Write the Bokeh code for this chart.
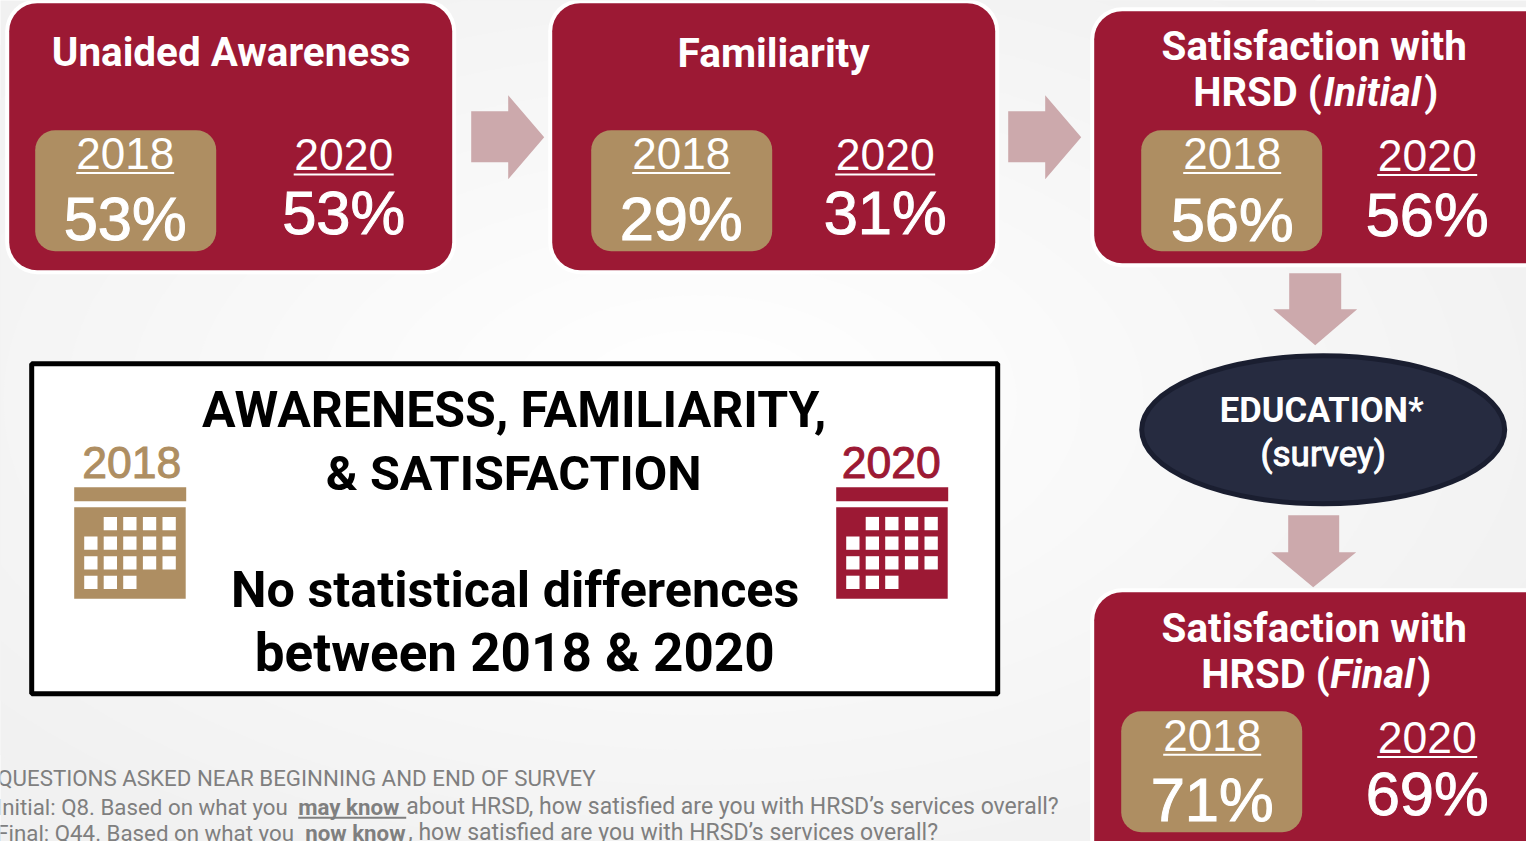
from bokeh.plotting import figure
from bokeh.models import Range1d
from bokeh.core.properties import value
from bokeh.embed import file_html
from bokeh.resources import INLINE
import math

# content
card_titles = [["Unaided Awareness"], ["Familiarity"], ["Satisfaction with"], ["Satisfaction with"]]
years = ["2018", "2020"]
values_2018 = ["53%", "29%", "56%", "71%"]
values_2020 = ["53%", "31%", "56%", "69%"]
big_lines = ["AWARENESS, FAMILIARITY,", "& SATISFACTION", "No statistical differences", "between 2018 & 2020"]
footer_head = "QUESTIONS ASKED NEAR BEGINNING AND END OF SURVEY"

W, H = 1526, 841
CRIM, TAN, PINK, NAVY = "#9C1934", "#AE8E62", "#CCA9AC", "#262B40"
NARROW, SANS = "Roboto", "Liberation Sans"
BASE = 0.41
SHIFT = 0.3

p = figure(width=W, height=H, x_range=Range1d(SHIFT, W + SHIFT), y_range=Range1d(H + SHIFT, SHIFT),
           output_backend="svg", toolbar_location=None, min_border=0,
           x_axis_type=None, y_axis_type=None, outline_line_color=None,
           background_fill_color="#F1F1F1", border_fill_color="#F1F1F1")
p.grid.visible = False

# soft radial backdrop
steps = 15
for i in range(steps):
    t = 1 - i / steps
    c = 241 + int(14 * i / (steps - 1))
    col = f"#{c:02X}{c:02X}{c:02X}"
    p.ellipse(x=[700], y=[400], width=[1900 * t], height=[1050 * t], fill_color=col, line_color=None)


def rrect(x0, y0, x1, y1, r, **kw):
    xs, ys = [], []
    for cx, cy, a0 in [(x1 - r, y0 + r, -90), (x1 - r, y1 - r, 0), (x0 + r, y1 - r, 90), (x0 + r, y0 + r, 180)]:
        for k in range(9):
            a = math.radians(a0 + k * 90 / 8)
            xs.append(cx + r * math.cos(a))
            ys.append(cy + r * math.sin(a))
    p.patch(xs, ys, **kw)


def txt(x, y, s, size, color, align="center", style="normal", font=SANS, outline=None):
    p.text(x=[x], y=[y - BASE * size], text=[s], text_font=value(font), text_font_size=f"{size}px",
           text_font_style=style, text_color=color, text_align=align, text_baseline="alphabetic",
           text_outline_color=outline)


def line(x0, x1, y, w, color):
    p.segment(x0=[x0], y0=[y], x1=[x1], y1=[y], line_color=color, line_width=w)


# cards: box, tan box left, 2018 x, 2020 x, baselines
cards = [
    dict(box=(9, 3, 452, 270), tan=(35, 130, 216, 251), x18=125, x20=343.5, y18=171.3, y20=172.8, v18=243.5, v20=238),
    dict(box=(552, 3, 995, 270), tan=(591, 130, 772, 251), x18=681, x20=885, y18=171.3, y20=172.8, v18=243.5, v20=238),
    dict(box=(1094, 11, 1560, 263), tan=(1141, 130, 1322, 251), x18=1232, x20=1427, y18=171.3, y20=173.3, v18=244.5, v20=239.5),
    dict(box=(1094, 592, 1560, 880), tan=(1121, 711, 1302, 832), x18=1212, x20=1427, y18=753, y20=755.3, v18=824.5, v20=819),
]
for i, c in enumerate(cards):
    x0, y0, x1, y1 = c["box"]
    rrect(x0 - 4, y0 - 4, x1 + 4, y1 + 4, 32, fill_color="#FFFFFF", line_color=None)
    rrect(x0, y0, x1, y1, 28, fill_color=CRIM, line_color=None)
    a, b, d, e = c["tan"]
    rrect(a, b, d, e, 20, fill_color=TAN, line_color=None)
    txt(c["x18"], c["y18"], years[0], 44, "#FFFFFF")
    txt(c["x20"], c["y20"], years[1], 44.5, "#FFFFFF")
    line(c["x18"] - 49, c["x18"] + 49, c["y18"] + 1.5, 2, "#FFFFFF")
    line(c["x20"] - 50, c["x20"] + 50, c["y20"] + 1.5, 2, "#FFFFFF")
    txt(c["x18"], c["v18"], values_2018[i], 61.5, "#FFFFFF", outline="#FFFFFF")
    txt(c["x20"], c["v20"], values_2020[i], 61.5, "#FFFFFF", outline="#FFFFFF")

txt(231, 69, card_titles[0][0], 40.4, "#FFFFFF", style="bold", font=NARROW)
txt(773.5, 69, card_titles[1][0], 40.6, "#FFFFFF", style="bold", font=NARROW)
txt(1314, 63, card_titles[2][0], 40.4, "#FFFFFF", style="bold", font=NARROW)
txt(1314, 645, card_titles[3][0], 40.4, "#FFFFFF", style="bold", font=NARROW)

txt(1193, 109, "HRSD (", 40, "#FFFFFF", "left", "bold", NARROW)
txt(1323, 109, "Initial", 40, "#FFFFFF", "left", "bold italic", NARROW)
txt(1424, 109, ")", 40, "#FFFFFF", "left", "bold", NARROW)
txt(1201, 691, "HRSD (", 40, "#FFFFFF", "left", "bold", NARROW)
txt(1330, 691, "Final", 40, "#FFFFFF", "left", "bold italic", NARROW)
txt(1417, 691, ")", 40, "#FFFFFF", "left", "bold", NARROW)

# arrows
for ox in (0, 537):
    p.patch([471 + ox, 508 + ox, 508 + ox, 544 + ox, 508 + ox, 508 + ox, 471 + ox],
            [111, 111, 95, 137, 179, 162, 162], fill_color=PINK, line_color=None)
for sx0, sx1, sy0, hy, hx0, hx1, tx, ty in [(1289, 1341, 273, 309, 1273, 1357, 1315, 345),
                                            (1288, 1339, 515, 552, 1271, 1356, 1313, 587)]:
    p.patch([sx0, sx1, sx1, hx1, tx, hx0, sx0], [sy0, sy0, hy, hy, ty, hy, hy], fill_color=PINK, line_color=None)

# education oval
p.ellipse(x=[1323], y=[429.5], width=[363], height=[148], fill_color=NAVY, line_color="#1A1E30", line_width=5)
txt(1321.5, 424, "EDUCATION*", 34.6, "#FFFFFF", style="bold", font=NARROW)
txt(1323, 469, "(survey)", 35, "#FFFFFF", font=NARROW, outline="#FFFFFF")

# central box
p.quad(left=[31.5], right=[997.5], top=[363.5], bottom=[693.5], fill_color="#FFFFFF", line_color="#000000", line_width=5)
txt(514, 430.5, big_lines[0], 50, "#000000", style="bold", font=NARROW)
txt(513.5, 493.5, big_lines[1], 48.6, "#000000", style="bold", font=NARROW)
txt(515, 609.5, big_lines[2], 50.3, "#000000", style="bold", font=NARROW)
txt(514.5, 674.5, big_lines[3], 53, "#000000", style="bold", font=NARROW)

# calendars
cols = [84, 103.5, 123, 142.7, 162.3]
rows = [516.7, 536.3, 556, 575.5]
cells = [[1, 2, 3, 4], [0, 1, 2, 3, 4], [0, 1, 2, 3, 4], [0, 1, 2]]
for ox, col, yr, tx in [(0, TAN, years[0], 131.5), (762, CRIM, years[1], 891)]:
    txt(tx, 480.5, yr, 44.5, col, outline=col)
    p.quad(left=[74 + ox], right=[186 + ox], top=[487], bottom=[501], fill_color=col, line_color=None)
    p.quad(left=[74 + ox], right=[185.5 + ox], top=[507], bottom=[598.5], fill_color=col, line_color=None)
    for r, cs in zip(rows, cells):
        for k in cs:
            p.quad(left=[cols[k] + ox], right=[cols[k] + 13.3 + ox], top=[r], bottom=[r + 13.3],
                   fill_color="#FFFFFF", line_color=None)

# footer
G = "#7F7F7F"
FS = 22.3
txt(-3, 787, footer_head, FS, G, "left", font=NARROW)
txt(-4, 816, "Initial: Q8. Based on what you", FS, G, "left", font=NARROW)
txt(298, 816, "may know", FS, G, "left", "bold", NARROW)
line(298, 406, 817.5, 2, G)
txt(406, 816, "about HRSD, how satisfied are you with HRSD\u2019s services overall?", 23, G, "left", font=NARROW)
txt(-4, 842, "Final: Q44. Based on what you", FS, G, "left", font=NARROW)
txt(305, 842, "now know", FS, G, "left", "bold", NARROW)
txt(408, 842, ", how satisfied are you with HRSD\u2019s services overall?", 23, G, "left", font=NARROW)

open("out.html", "w").write(file_html(p, INLINE))
